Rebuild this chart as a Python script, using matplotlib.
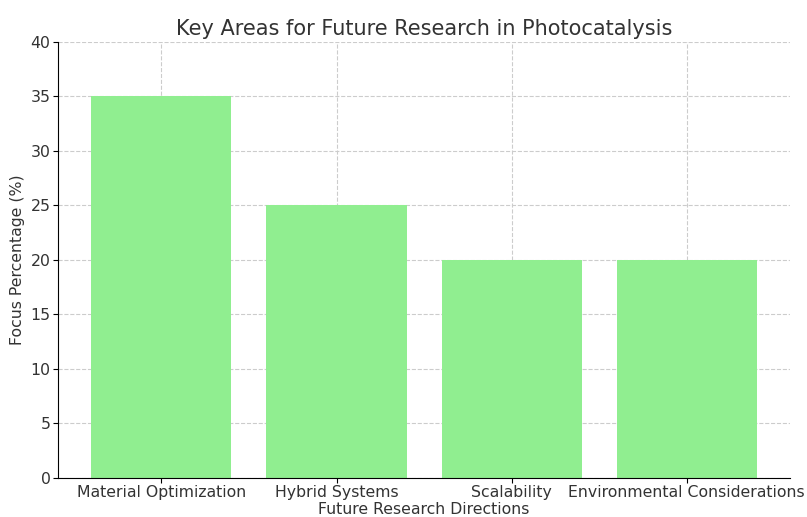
import matplotlib.pyplot as plt

directions = ['Material Optimization', 'Hybrid Systems', 'Scalability',
              'Environmental Considerations']
focus = [35, 25, 20, 20]

plt.rcParams['text.color'] = '#333333'
plt.rcParams['axes.labelcolor'] = '#333333'
plt.rcParams['xtick.labelcolor'] = '#333333'
plt.rcParams['ytick.labelcolor'] = '#333333'

fig, ax = plt.subplots(figsize=(8.07, 5.17), dpi=100)
ax.bar(directions, focus, color='lightgreen', width=0.8, zorder=2)

ax.set_title('Key Areas for Future Research in Photocatalysis', fontsize=15, pad=5)
ax.set_xlabel('Future Research Directions', fontsize=11.3, labelpad=1)
ax.set_ylabel('Focus Percentage (%)', fontsize=11.3)
ax.set_ylim(0, 40)
ax.grid(True, linestyle='--', color='#cccccc', linewidth=0.8, zorder=0)
ax.spines['top'].set_visible(False)
ax.spines['right'].set_visible(False)
ax.tick_params(axis='both', labelsize=11.3, pad=2)

fig.subplots_adjust(left=0.072, right=0.979, top=0.919, bottom=0.076)
plt.savefig('out.png')
